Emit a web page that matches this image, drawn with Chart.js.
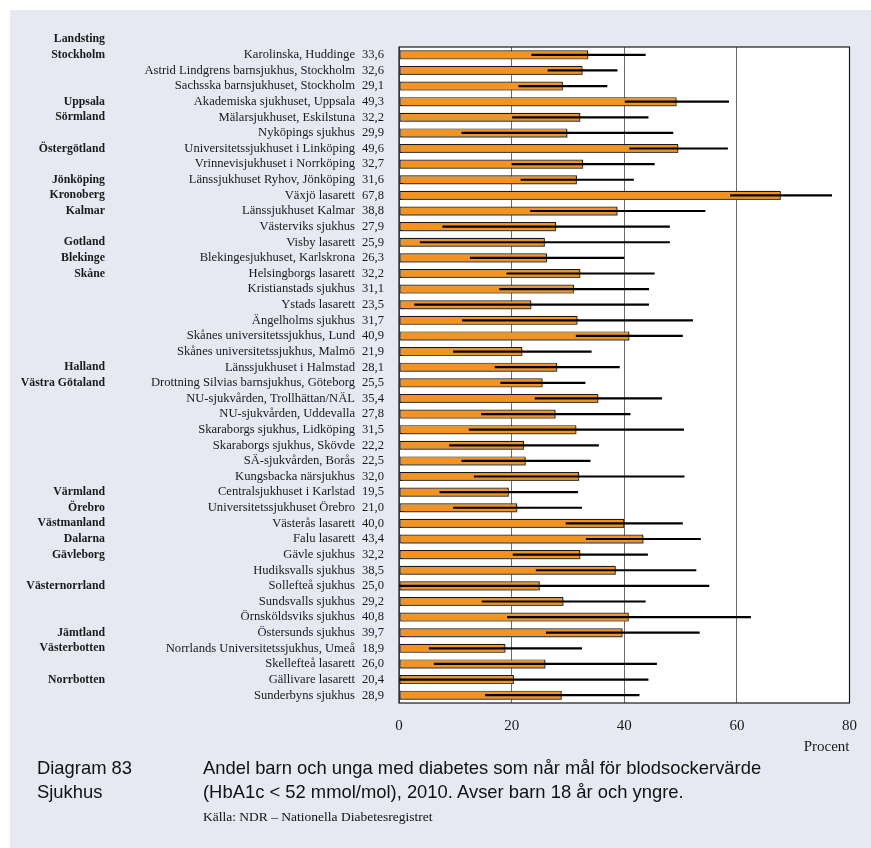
<!DOCTYPE html>
<html lang="sv">
<head>
<meta charset="utf-8">
<script src="https://cdn.jsdelivr.net/npm/chart.js@4/dist/chart.umd.min.js"></script>
<style>
  html, body { margin: 0; padding: 0; background: #ffffff; }
  #page { position: relative; width: 871px; height: 848px; overflow: hidden; }
  #panel { position: absolute; left: 10px; top: 10px; width: 861px; height: 838px; background: #e6e9f2; }
  #wrap { position: absolute; left: 0; top: 0; width: 871px; height: 848px; }
  .cap { position: absolute; font-family: "Liberation Sans", Arial, sans-serif; font-size: 18.4px; color: #111; white-space: nowrap; line-height: 22px; }
  .src { position: absolute; font-family: "Liberation Serif", "Times New Roman", serif; font-size: 13.5px; color: #111; white-space: nowrap; line-height: 16px; }
</style>
</head>
<body>
<div id="page">
  <div id="panel"></div>
  <div id="wrap"><canvas id="chart" width="871" height="848"></canvas></div>
  <div class="cap" style="left:37px; top:757px;">Diagram 83</div>
  <div class="cap" style="left:37px; top:781px;">Sjukhus</div>
  <div class="cap" style="left:203px; top:757px;">Andel barn och unga med diabetes som når mål för blodsockervärde</div>
  <div class="cap" style="left:203px; top:781px;">(HbA1c &lt; 52 mmol/mol), 2010. Avser barn 18 år och yngre.</div>
  <div class="src" style="left:203px; top:809px;">Källa: NDR – Nationella Diabetesregistret</div>
</div>
<script>
// Hospitals, top to bottom
const hospitals = [
  "Karolinska, Huddinge",
  "Astrid Lindgrens barnsjukhus, Stockholm",
  "Sachsska barnsjukhuset, Stockholm",
  "Akademiska sjukhuset, Uppsala",
  "Mälarsjukhuset, Eskilstuna",
  "Nyköpings sjukhus",
  "Universitetssjukhuset i Linköping",
  "Vrinnevisjukhuset i Norrköping",
  "Länssjukhuset Ryhov, Jönköping",
  "Växjö lasarett",
  "Länssjukhuset Kalmar",
  "Västerviks sjukhus",
  "Visby lasarett",
  "Blekingesjukhuset, Karlskrona",
  "Helsingborgs lasarett",
  "Kristianstads sjukhus",
  "Ystads lasarett",
  "Ängelholms sjukhus",
  "Skånes universitetssjukhus, Lund",
  "Skånes universitetssjukhus, Malmö",
  "Länssjukhuset i Halmstad",
  "Drottning Silvias barnsjukhus, Göteborg",
  "NU-sjukvården, Trollhättan/NÄL",
  "NU-sjukvården, Uddevalla",
  "Skaraborgs sjukhus, Lidköping",
  "Skaraborgs sjukhus, Skövde",
  "SÄ-sjukvården, Borås",
  "Kungsbacka närsjukhus",
  "Centralsjukhuset i Karlstad",
  "Universitetssjukhuset Örebro",
  "Västerås lasarett",
  "Falu lasarett",
  "Gävle sjukhus",
  "Hudiksvalls sjukhus",
  "Sollefteå sjukhus",
  "Sundsvalls sjukhus",
  "Örnsköldsviks sjukhus",
  "Östersunds sjukhus",
  "Norrlands Universitetssjukhus, Umeå",
  "Skellefteå lasarett",
  "Gällivare lasarett",
  "Sunderbyns sjukhus"
];

// County council shown on the first row of each group
const landsting = [
  "Stockholm", "", "", "Uppsala", "Sörmland", "", "Östergötland", "", "Jönköping", "Kronoberg",
  "Kalmar", "", "Gotland", "Blekinge", "Skåne", "", "", "", "", "",
  "Halland", "Västra Götaland", "", "", "", "", "", "", "Värmland", "Örebro",
  "Västmanland", "Dalarna", "Gävleborg", "", "Västernorrland", "", "", "Jämtland", "Västerbotten", "",
  "Norrbotten", ""
];

// Share (%) reaching HbA1c < 52 mmol/mol
const procent = [
  33.6, 32.6, 29.1, 49.3, 32.2, 29.9, 49.6, 32.7, 31.6, 67.8,
  38.8, 27.9, 25.9, 26.3, 32.2, 31.1, 23.5, 31.7, 40.9, 21.9,
  28.1, 25.5, 35.4, 27.8, 31.5, 22.2, 22.5, 32.0, 19.5, 21.0,
  40.0, 43.4, 32.2, 38.5, 25.0, 29.2, 40.8, 39.7, 18.9, 26.0,
  20.4, 28.9
];

// Confidence interval, lower and upper limit
const ciLow = [
  23.5, 26.4, 21.2, 40.1, 20.1, 11.1, 40.9, 20.0, 21.6, 58.8,
  23.3, 7.7, 3.7, 12.6, 19.1, 17.8, 2.7, 11.2, 31.4, 9.6,
  17.0, 18.0, 24.1, 14.6, 12.4, 8.9, 11.1, 13.3, 7.2, 9.6,
  29.6, 33.2, 20.2, 24.3, 0.0, 14.7, 19.2, 26.1, 5.3, 6.2,
  0.0, 15.3
];
const ciHigh = [
  43.8, 38.8, 37.0, 58.6, 44.3, 48.7, 58.4, 45.4, 41.7, 76.9,
  54.4, 48.1, 48.1, 40.0, 45.4, 44.4, 44.4, 52.2, 50.4, 34.2,
  39.2, 33.1, 46.7, 41.1, 50.6, 35.5, 34.0, 50.7, 31.8, 32.5,
  50.4, 53.6, 44.2, 52.8, 55.1, 43.8, 62.5, 53.4, 32.5, 45.8,
  44.3, 42.7
];

const xTicks = [0, 20, 40, 60, 80];

const SERIF = '"Liberation Serif", "Times New Roman", serif';
const fmt = v => v.toFixed(1).replace('.', ',');

// White plot background, drop shadow under bars, CI lines, frame and row labels
const decor = {
  id: 'decor',
  beforeDraw(chart) {
    const { ctx, chartArea: a } = chart;
    ctx.save();
    ctx.fillStyle = '#ffffff';
    ctx.fillRect(a.left, a.top, a.right - a.left, a.bottom - a.top);
    ctx.restore();
  },
  beforeDatasetsDraw(chart) {
    const ctx = chart.ctx;
    ctx.save();
    ctx.shadowColor = 'rgba(90,90,90,0.75)';
    ctx.shadowOffsetX = 1.5;
    ctx.shadowOffsetY = 1.5;
    ctx.shadowBlur = 1;
  },
  afterDatasetsDraw(chart) {
    const ctx = chart.ctx;
    ctx.restore();
    const xs = chart.scales.x, ys = chart.scales.y;
    ctx.save();
    ctx.strokeStyle = '#000000';
    ctx.lineWidth = 2.2;
    ctx.lineCap = 'butt';
    for (let i = 0; i < hospitals.length; i++) {
      const y = ys.getPixelForValue(i);
      ctx.beginPath();
      ctx.moveTo(xs.getPixelForValue(ciLow[i]), y);
      ctx.lineTo(xs.getPixelForValue(ciHigh[i]), y);
      ctx.stroke();
    }
    ctx.restore();
  },
  afterDraw(chart) {
    const { ctx, chartArea: a } = chart;
    const ys = chart.scales.y;
    ctx.save();
    // frame
    ctx.strokeStyle = '#1a1a1a';
    ctx.lineWidth = 1.2;
    ctx.strokeRect(a.left, a.top, a.right - a.left, a.bottom - a.top);
    // row labels
    ctx.fillStyle = '#1a1a1a';
    ctx.textBaseline = 'middle';
    const rowH = ys.getPixelForValue(1) - ys.getPixelForValue(0);
    ctx.font = 'bold 11.8px ' + SERIF;
    ctx.textAlign = 'right';
    ctx.fillText('Landsting', 105, ys.getPixelForValue(0) - rowH);
    for (let i = 0; i < hospitals.length; i++) {
      const y = ys.getPixelForValue(i);
      if (landsting[i]) {
        ctx.font = 'bold 11.8px ' + SERIF;
        ctx.textAlign = 'right';
        ctx.fillText(landsting[i], 105, y);
      }
      ctx.font = '12.6px ' + SERIF;
      ctx.textAlign = 'right';
      ctx.fillText(hospitals[i], 355, y);
      ctx.textAlign = 'left';
      ctx.fillText(fmt(procent[i]), 362, y);
    }
    ctx.restore();
  }
};

new Chart(document.getElementById('chart'), {
  type: 'bar',
  data: {
    labels: hospitals,
    datasets: [{
      data: procent,
      backgroundColor: '#f39422',
      borderColor: '#1a1a1a',
      borderWidth: 1.2,
      borderSkipped: false,
      categoryPercentage: 1,
      barPercentage: 0.58
    }]
  },
  options: {
    indexAxis: 'y',
    responsive: false,
    animation: false,
    events: [],
    layout: { padding: { left: 399, right: 21, top: 47, bottom: 92 } },
    plugins: { legend: { display: false }, tooltip: { enabled: false } },
    scales: {
      x: {
        type: 'linear',
        min: 0,
        max: 80,
        afterBuildTicks(scale) { scale.ticks = xTicks.map(v => ({ value: v })); },
        afterFit(scale) { scale.height = 53; },
        grid: { color: '#6b6b6b', lineWidth: 1, drawTicks: false },
        border: { display: false },
        ticks: {
          padding: 14,
          color: '#1a1a1a',
          font: { family: SERIF, size: 15 },
          callback: v => String(v)
        },
        title: {
          display: true,
          text: 'Procent',
          align: 'end',
          color: '#1a1a1a',
          font: { family: SERIF, size: 15 },
          padding: { top: 0, bottom: 0 }
        }
      },
      y: {
        type: 'category',
        display: false,
        offset: true,
        grid: { display: false }
      }
    }
  },
  plugins: [decor]
});
</script>
</body>
</html>
